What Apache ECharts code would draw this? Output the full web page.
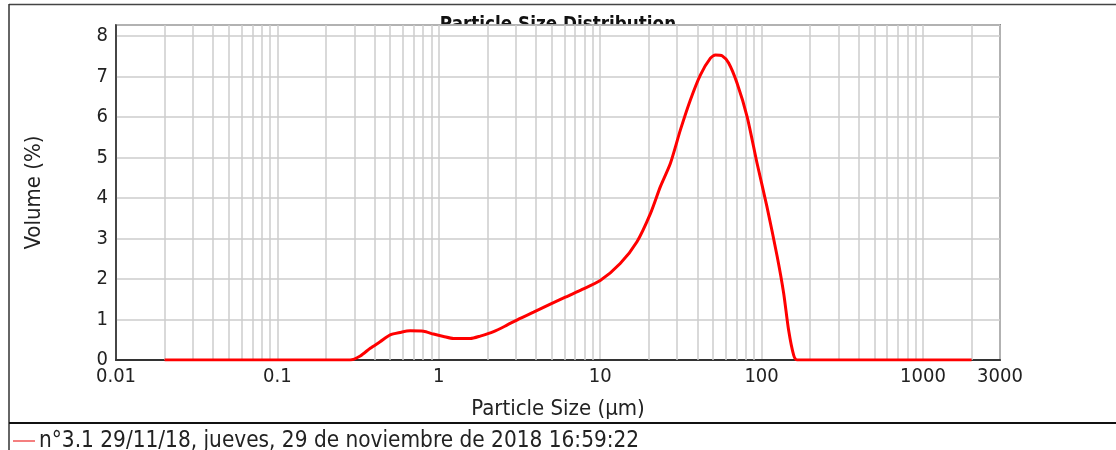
<!DOCTYPE html>
<html>
<head>
<meta charset="utf-8">
<script src="https://cdn.jsdelivr.net/npm/echarts@6/dist/echarts.min.js"></script>
<style>
html,body{margin:0;padding:0;background:#fff;}
#chart{width:1116px;height:450px;}
</style>
</head>
<body>
<div id="chart"></div>
<script>
// Particle sizes (µm) and volume (%)
const sizes = [0.02, 0.27, 0.282, 0.326, 0.376, 0.433, 0.500, 0.576, 0.665, 0.804, 0.927, 1.07, 1.233, 1.566, 1.806, 2.185, 2.643, 3.196, 3.865, 4.909, 6.08, 7.53, 10.0, 13.3, 16.9, 20.5, 23.6, 27.2, 31.4, 36.2, 41.8, 48.2, 51.8, 56.9, 62.5, 70.5, 81.3, 93.8, 108, 125, 137, 147, 158, 166, 2000];
const volumes = [0, 0, 0, 0.10, 0.29, 0.45, 0.62, 0.68, 0.72, 0.71, 0.64, 0.58, 0.53, 0.53, 0.59, 0.70, 0.86, 1.03, 1.18, 1.38, 1.55, 1.72, 1.96, 2.38, 2.92, 3.62, 4.28, 4.85, 5.68, 6.42, 7.04, 7.45, 7.53, 7.51, 7.33, 6.83, 6.01, 4.85, 3.78, 2.55, 1.65, 0.74, 0.12, 0, 0];
const xTickLabels = [0.01, 0.1, 1, 10, 100, 1000, 3000];
const yTicks = [0, 1, 2, 3, 4, 5, 6, 7, 8];
const minorGrid = [0.02,0.03,0.04,0.05,0.06,0.07,0.08,0.09,0.2,0.3,0.4,0.5,0.6,0.7,0.8,0.9,2,3,4,5,6,7,8,9,20,30,40,50,60,70,80,90,200,300,400,500,600,700,800,900,2000];
const seriesName = 'n°3.1 29/11/18, jueves, 29 de noviembre de 2018 16:59:22';
const titleText = 'Particle Size Distribution';

const font = '"DejaVu Sans Condensed", "DejaVu Sans"';
const chart = echarts.init(document.getElementById('chart'));
const data = sizes.map((s, i) => [s, volumes[i]]);
const gridColor = '#cccccc';

chart.setOption({
  animation: false,
  title: {
    text: titleText,
    left: 'center',
    top: 11,
    z: -10,
    textStyle: {fontFamily: font, fontSize: 18.7, fontWeight: 'bold', color: '#111'}
  },
  grid: {
    left: 116, right: 116, top: 25, bottom: 90,
    show: true, backgroundColor: '#ffffff', borderColor: '#333', borderWidth: 1.5, z: 0
  },
  legend: {
    left: 8, top: 425,
    itemWidth: 22, itemHeight: 14, itemGap: 10,
    data: [{name: seriesName, icon: 'path://M0,6.3 L22,6.3 L22,7.7 L0,7.7 Z'}],
    textStyle: {fontFamily: font, fontSize: 22.4, color: '#222', padding: [0,0,0,-1]},
    selectedMode: false
  },
  xAxis: {
    type: 'log', logBase: 10, min: 0.01, max: 3000,
    name: 'Particle Size (µm)', nameLocation: 'middle', nameGap: 38,
    nameTextStyle: {fontFamily: font, fontSize: 22, color: '#222'},
    axisLine: {show: true, lineStyle: {color: '#333', width: 2}},
    axisTick: {show: false},
    axisLabel: {
      fontFamily: font, fontSize: 20, color: '#222', margin: 7,
      showMaxLabel: true, showMinLabel: true,
      formatter: v => {
        const n = Number(Number(v).toPrecision(6));
        return xTickLabels.indexOf(n) >= 0 ? String(n) : '';
      }
    },
    splitLine: {show: true, lineStyle: {color: gridColor, width: 1.5}},
    minorSplitLine: {show: false}
  },
  yAxis: {
    type: 'value', min: 0, max: 8.27, interval: 1,
    name: 'Volume (%)', nameLocation: 'middle', nameGap: 71,
    nameTextStyle: {fontFamily: font, fontSize: 22, color: '#222'},
    axisLine: {show: true, lineStyle: {color: '#222', width: 1.5}},
    axisTick: {show: false},
    axisLabel: {
      fontFamily: font, fontSize: 20, color: '#222', margin: 8,
      formatter: v => yTicks.indexOf(v) >= 0 ? String(v) : ''
    },
    splitLine: {show: true, lineStyle: {color: gridColor, width: 1.5}}
  },
  series: [
    {
      name: '_grid', type: 'line', data: [], z: 1, silent: true,
      markLine: {
        silent: true, symbol: ['none', 'none'], label: {show: false},
        lineStyle: {color: gridColor, width: 1.5, type: 'solid'},
        emphasis: {disabled: true},
        data: minorGrid.map(v => ({xAxis: v}))
      }
    },
    {
      name: seriesName, type: 'line', data: data, z: 5,
      showSymbol: false, symbol: 'none', smooth: 0.25,
      lineStyle: {color: '#ff0000', width: 3},
      itemStyle: {color: '#f04848'}
    }
  ],
  graphic: [
    {type: 'line', shape: {x1: 9, y1: 4.5, x2: 1116, y2: 4.5}, style: {stroke: '#444', lineWidth: 1.5}, z: 100},
    {type: 'line', shape: {x1: 9, y1: 4, x2: 9, y2: 450}, style: {stroke: '#333', lineWidth: 1.5}, z: 100},
    {type: 'line', shape: {x1: 9, y1: 423, x2: 1116, y2: 423}, style: {stroke: '#111', lineWidth: 2}, z: 100}
  ]
});
</script>
</body>
</html>
